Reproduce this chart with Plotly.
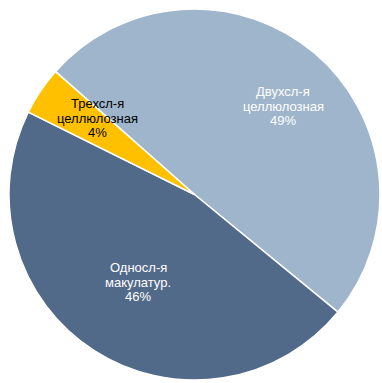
import plotly.graph_objects as go

labels = ["Двухсл-я<br>целлюлозная", "Односл-я<br>макулатур.", "Трехсл-я<br>целлюлозная"]
values = [49.4, 46.4, 4.2]
colors = ["#9fb5cb", "#526a89", "#ffc000"]
text_colors = ["#ffffff", "#ffffff", "#000000"]
# label block centres (px) inside the figure
label_pos = [(283, 106), (138, 282), (97, 118)]
LINE_GAP = 14.2

W, H = 382, 383
FONT = "Liberation Sans, Arial, sans-serif"

fig = go.Figure(go.Pie(
    labels=labels,
    values=values,
    sort=False,
    direction="clockwise",
    rotation=-48.5,
    marker=dict(colors=colors, line=dict(color="#ffffff", width=1.5)),
    textinfo="none",
    hoverinfo="label+percent",
    domain=dict(x=[8/W, 381/W], y=[3/H, 374/H]),
    showlegend=False,
))

total = sum(values)
for lab, val, col, (px, py) in zip(labels, values, text_colors, label_pos):
    lines = lab.split("<br>") + [f"{round(val/total*100)}%"]
    n = len(lines)
    for i, line in enumerate(lines):
        ly = py + (i - (n - 1) / 2) * LINE_GAP
        fig.add_annotation(
            x=px/W, y=1-ly/H, xref="paper", yref="paper",
            xanchor="center", yanchor="middle",
            text=line,
            showarrow=False,
            font=dict(family=FONT, size=13, color=col),
        )

fig.update_layout(
    width=W, height=H,
    margin=dict(l=0, r=0, t=0, b=0),
    paper_bgcolor="#ffffff",
    plot_bgcolor="#ffffff",
    showlegend=False,
)

fig.write_html("out.html", config={"displayModeBar": False},
               post_script="document.body.style.margin='0';")
